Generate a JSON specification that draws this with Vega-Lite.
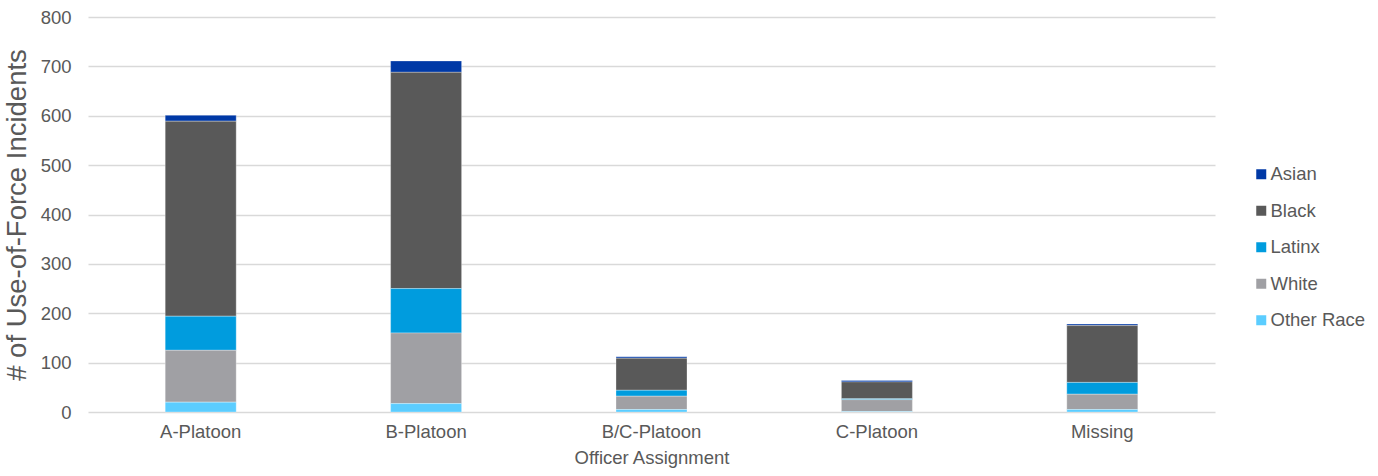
{
  "$schema": "https://vega.github.io/schema/vega-lite/v6.json",
  "width": 1127,
  "height": 395,
  "autosize": {"type": "none"},
  "padding": {"left": 88, "top": 17, "right": 163, "bottom": 64},
  "background": "white",
  "config": {
    "font": "Liberation Sans",
    "view": {"stroke": null}
  },
  "data": {
    "values": [
      {"assignment": "A-Platoon", "race": "Asian", "count": 12},
      {"assignment": "A-Platoon", "race": "Black", "count": 395},
      {"assignment": "A-Platoon", "race": "Latinx", "count": 69},
      {"assignment": "A-Platoon", "race": "White", "count": 105},
      {"assignment": "A-Platoon", "race": "Other Race", "count": 20},
      {"assignment": "B-Platoon", "race": "Asian", "count": 23},
      {"assignment": "B-Platoon", "race": "Black", "count": 438},
      {"assignment": "B-Platoon", "race": "Latinx", "count": 90},
      {"assignment": "B-Platoon", "race": "White", "count": 143},
      {"assignment": "B-Platoon", "race": "Other Race", "count": 17},
      {"assignment": "B/C-Platoon", "race": "Asian", "count": 3},
      {"assignment": "B/C-Platoon", "race": "Black", "count": 65},
      {"assignment": "B/C-Platoon", "race": "Latinx", "count": 12},
      {"assignment": "B/C-Platoon", "race": "White", "count": 27},
      {"assignment": "B/C-Platoon", "race": "Other Race", "count": 5},
      {"assignment": "C-Platoon", "race": "Asian", "count": 3},
      {"assignment": "C-Platoon", "race": "Black", "count": 34},
      {"assignment": "C-Platoon", "race": "Latinx", "count": 2},
      {"assignment": "C-Platoon", "race": "White", "count": 24},
      {"assignment": "C-Platoon", "race": "Other Race", "count": 1},
      {"assignment": "Missing", "race": "Asian", "count": 3},
      {"assignment": "Missing", "race": "Black", "count": 115},
      {"assignment": "Missing", "race": "Latinx", "count": 24},
      {"assignment": "Missing", "race": "White", "count": 31},
      {"assignment": "Missing", "race": "Other Race", "count": 5}
    ]
  },
  "transform": [
    {"calculate": "indexof(['Other Race', 'White', 'Latinx', 'Black', 'Asian'], datum.race)", "as": "stackOrder"}
  ],
  "mark": {"type": "bar", "stroke": "white", "strokeWidth": 0.6, "strokeOpacity": 0.5},
  "encoding": {
    "x": {
      "field": "assignment",
      "type": "nominal",
      "sort": ["A-Platoon", "B-Platoon", "B/C-Platoon", "C-Platoon", "Missing"],
      "scale": {"paddingInner": 0.685, "paddingOuter": 0.3425},
      "axis": {
        "title": "Officer Assignment",
        "titleFontSize": 18.5,
        "titleFontWeight": "normal",
        "titleColor": "#595959",
        "titlePadding": 8,
        "labelAngle": 0,
        "labelFontSize": 18.5,
        "labelColor": "#595959",
        "labelPadding": 10,
        "ticks": false,
        "domain": false
      }
    },
    "y": {
      "field": "count",
      "type": "quantitative",
      "aggregate": "sum",
      "stack": "zero",
      "scale": {"domain": [0, 800], "nice": false},
      "axis": {
        "title": "# of Use-of-Force Incidents",
        "titleFontSize": 27.5,
        "titleFontWeight": "normal",
        "titleColor": "#595959",
        "titlePadding": 9,
        "values": [0, 100, 200, 300, 400, 500, 600, 700, 800],
        "labelFontSize": 18.5,
        "labelColor": "#595959",
        "labelPadding": 17,
        "ticks": false,
        "domain": false,
        "gridColor": "#d9d9d9",
        "gridWidth": 1.5
      }
    },
    "color": {
      "field": "race",
      "type": "nominal",
      "scale": {
        "domain": ["Asian", "Black", "Latinx", "White", "Other Race"],
        "range": ["#0039a6", "#595959", "#009cde", "#a0a0a4", "#5bcdff"]
      },
      "legend": {
        "title": null,
        "orient": "none",
        "legendX": 1164,
        "legendY": 148,
        "symbolType": "square",
        "symbolSize": 100,
        "symbolStrokeWidth": 0,
        "labelFontSize": 18.5,
        "labelColor": "#595959",
        "labelOffset": 0,
        "rowPadding": 17.5
      }
    },
    "order": {"field": "stackOrder", "type": "quantitative", "sort": "ascending"}
  }
}
